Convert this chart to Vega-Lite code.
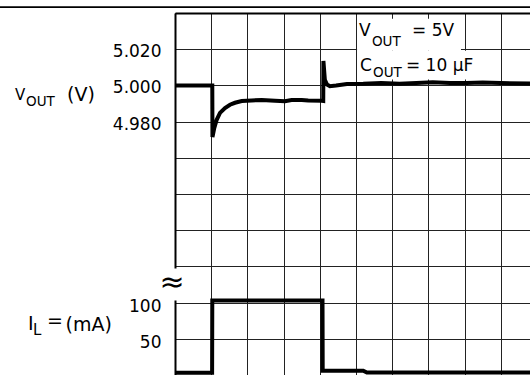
{
  "$schema": "https://vega.github.io/schema/vega-lite/v6.json",
  "width": 355,
  "height": 362,
  "autosize": {"type": "none"},
  "padding": {"left": 175, "top": 13, "right": 0, "bottom": 0},
  "background": "white",
  "config": {"view": {"stroke": null}, "font": "DejaVu Sans"},
  "layer": [
    {
      "data": {"values": [
        {"t": 0, "v": 5.0}, {"t": 1.03, "v": 5.0}, {"t": 1.035, "v": 4.9715},
        {"t": 1.086, "v": 4.9765}, {"t": 1.152, "v": 4.981}, {"t": 1.243, "v": 4.9848},
        {"t": 1.381, "v": 4.9875}, {"t": 1.519, "v": 4.9893}, {"t": 1.657, "v": 4.9904},
        {"t": 1.843, "v": 4.9914}, {"t": 2.119, "v": 4.9917}, {"t": 2.395, "v": 4.9919},
        {"t": 2.762, "v": 4.9915}, {"t": 3.039, "v": 4.9912}, {"t": 3.22, "v": 4.9919},
        {"t": 3.5, "v": 4.9919}, {"t": 3.68, "v": 4.9917}, {"t": 4.05, "v": 4.9915},
        {"t": 4.095, "v": 4.9914}, {"t": 4.1, "v": 5.0135}, {"t": 4.14, "v": 5.003},
        {"t": 4.2, "v": 5.0005}, {"t": 4.28, "v": 4.9996}, {"t": 4.45, "v": 4.9999},
        {"t": 4.75, "v": 5.0008}, {"t": 5.2, "v": 5.0009}, {"t": 5.7, "v": 5.0013},
        {"t": 6.2, "v": 5.0009}, {"t": 6.67, "v": 5.0013}, {"t": 7.12, "v": 5.0017},
        {"t": 7.6, "v": 5.0013}, {"t": 8.05, "v": 5.0013}, {"t": 8.5, "v": 5.0016},
        {"t": 9.0, "v": 5.0013}, {"t": 9.81, "v": 5.001}
      ]},
      "mark": {"type": "line", "stroke": "black", "strokeWidth": 4, "strokeJoin": "miter"},
      "encoding": {
        "x": {"field": "t", "type": "quantitative",
          "scale": {"domain": [0, 9.807], "nice": false, "zero": false},
          "axis": {"orient": "top", "values": [0, 1, 2, 3, 4, 5, 6, 7, 8, 9], "tickCount": 40, "grid": true,
            "gridColor": "#222", "gridWidth": 1, "labels": false, "ticks": false,
            "domain": true, "domainColor": "black", "domainWidth": 2, "title": null}},
        "y": {"field": "v", "type": "quantitative",
          "scale": {"domain": [4.84, 5.04], "nice": false, "zero": false},
          "axis": {"orient": "left",
            "values": [4.84, 4.86, 4.88, 4.9, 4.92, 4.94, 4.96, 4.98, 5.0, 5.02, 5.04],
            "tickCount": 40,
            "labelExpr": "datum.value > 4.97 && datum.value < 5.03 ? format(datum.value, '.3f') : ''",
            "grid": true, "gridColor": "#222", "gridWidth": 1, "ticks": false,
            "domain": true, "domainColor": "black", "domainWidth": 2,
            "labelFont": "DejaVu Sans", "labelFontSize": 17, "labelColor": "black",
            "labelPadding": 14, "labelOffset": 2.5, "labelOverlap": false, "title": null}}
      }
    },
    {
      "data": {"values": [
        {"t": 0, "i": 3}, {"t": 1.025, "i": 3}, {"t": 1.03, "i": 103},
        {"t": 4.075, "i": 103}, {"t": 4.08, "i": 6}, {"t": 5.2, "i": 6},
        {"t": 5.3, "i": 3.5}, {"t": 9.81, "i": 3.5}
      ]},
      "mark": {"type": "line", "stroke": "black", "strokeWidth": 4, "strokeJoin": "miter"},
      "encoding": {
        "x": {"field": "t", "type": "quantitative"},
        "y": {"field": "i", "type": "quantitative",
          "scale": {"domain": [0, 500], "nice": false, "zero": false},
          "axis": {"orient": "left", "values": [50, 100], "tickCount": 40, "grid": false, "ticks": false,
            "domain": false, "labelFont": "DejaVu Sans", "labelFontSize": 17,
            "labelColor": "black", "labelPadding": 14, "labelOffset": 3.5,
            "labelOverlap": false, "title": null}}
      }
    },
    {
      "data": {"values": [{"t1": -5, "t2": 10, "v": 5.0433}]},
      "mark": {"type": "rule", "stroke": "black", "strokeWidth": 1.7, "clip": false},
      "encoding": {
        "x": {"field": "t1", "type": "quantitative"},
        "x2": {"field": "t2"},
        "y": {"field": "v", "type": "quantitative", "scale": {"domain": [4.84, 5.04], "nice": false, "zero": false}, "axis": null}
      }
    },
    {
      "data": {"values": [
        {"t1": 5.03, "t2": 7.9, "v1": 5.0368, "v2": 5.0192},
        {"t1": 5.03, "t2": 8.54, "v1": 5.0192, "v2": 5.0032}
      ]},
      "mark": {"type": "rect", "fill": "white", "clip": false},
      "encoding": {
        "x": {"field": "t1", "type": "quantitative"},
        "x2": {"field": "t2"},
        "y": {"field": "v1", "type": "quantitative", "scale": {"domain": [4.84, 5.04], "nice": false, "zero": false}, "axis": null},
        "y2": {"field": "v2"}
      }
    },
    {
      "data": {"values": [
        {"t": 5.083, "v": 5.0275, "label": "V"},
        {"t": 5.11, "v": 5.0081, "label": "C"},
        {"t": 6.547, "v": 5.0275, "label": "= 5V"},
        {"t": 6.38, "v": 5.0081, "label": "= 10 μF"}
      ]},
      "mark": {"type": "text", "fontSize": 17, "align": "left", "baseline": "alphabetic", "color": "black", "clip": false},
      "encoding": {
        "x": {"field": "t", "type": "quantitative"},
        "y": {"field": "v", "type": "quantitative", "scale": {"domain": [4.84, 5.04], "nice": false, "zero": false}, "axis": null},
        "text": {"field": "label"}
      }
    },
    {
      "data": {"values": [
        {"t": 5.442, "v": 5.0219, "label": "OUT"},
        {"t": 5.47, "v": 5.0048, "label": "OUT"}
      ]},
      "mark": {"type": "text", "fontSize": 13.5, "align": "left", "baseline": "alphabetic", "color": "black", "clip": false},
      "encoding": {
        "x": {"field": "t", "type": "quantitative"},
        "y": {"field": "v", "type": "quantitative", "scale": {"domain": [4.84, 5.04], "nice": false, "zero": false}, "axis": null},
        "text": {"field": "label"}
      }
    },
    {
      "data": {"values": [{"t": -4.42, "v": 4.9921, "label": "V"}]},
      "mark": {"type": "text", "fontSize": 15, "align": "left", "baseline": "alphabetic", "color": "black", "clip": false},
      "encoding": {
        "x": {"field": "t", "type": "quantitative"},
        "y": {"field": "v", "type": "quantitative", "scale": {"domain": [4.84, 5.04], "nice": false, "zero": false}, "axis": null},
        "text": {"field": "label"}
      }
    },
    {
      "data": {"values": [{"t": -4.116, "v": 4.9888, "label": "OUT"}]},
      "mark": {"type": "text", "fontSize": 13.5, "align": "left", "baseline": "alphabetic", "color": "black", "clip": false},
      "encoding": {
        "x": {"field": "t", "type": "quantitative"},
        "y": {"field": "v", "type": "quantitative", "scale": {"domain": [4.84, 5.04], "nice": false, "zero": false}, "axis": null},
        "text": {"field": "label"}
      }
    },
    {
      "data": {"values": [{"t": -2.983, "v": 4.9916, "label": "(V)"}]},
      "mark": {"type": "text", "fontSize": 19, "align": "left", "baseline": "alphabetic", "color": "black", "clip": false},
      "encoding": {
        "x": {"field": "t", "type": "quantitative"},
        "y": {"field": "v", "type": "quantitative", "scale": {"domain": [4.84, 5.04], "nice": false, "zero": false}, "axis": null},
        "text": {"field": "label"}
      }
    },
    {
      "data": {"values": [{"t1": -0.1, "t2": 0.1, "i1": 102.9, "i2": 147.1}]},
      "mark": {"type": "rect", "fill": "white", "clip": false},
      "encoding": {
        "x": {"field": "t1", "type": "quantitative"},
        "x2": {"field": "t2"},
        "y": {"field": "i1", "type": "quantitative", "scale": {"domain": [0, 500], "nice": false, "zero": false}, "axis": null},
        "y2": {"field": "i2"}
      }
    },
    {
      "data": {"values": [{"t": -0.083, "i": 126.4, "label": "≈"}]},
      "mark": {"type": "text", "fontSize": 30, "align": "center", "baseline": "middle", "color": "black", "clip": false},
      "encoding": {
        "x": {"field": "t", "type": "quantitative"},
        "y": {"field": "i", "type": "quantitative", "scale": {"domain": [0, 500], "nice": false, "zero": false}, "axis": null},
        "text": {"field": "label"}
      }
    },
    {
      "data": {"values": [
        {"t": -4.06, "i": 62.8, "label": "I"},
        {"t": -3.536, "i": 66.4, "label": "="},
        {"t": -3.025, "i": 60.8, "label": "(mA)"}
      ]},
      "mark": {"type": "text", "fontSize": 19, "align": "left", "baseline": "alphabetic", "color": "black", "clip": false},
      "encoding": {
        "x": {"field": "t", "type": "quantitative"},
        "y": {"field": "i", "type": "quantitative", "scale": {"domain": [0, 500], "nice": false, "zero": false}, "axis": null},
        "text": {"field": "label"}
      }
    },
    {
      "data": {"values": [{"t": -3.923, "i": 55.9, "label": "L"}]},
      "mark": {"type": "text", "fontSize": 15, "align": "left", "baseline": "alphabetic", "color": "black", "clip": false},
      "encoding": {
        "x": {"field": "t", "type": "quantitative"},
        "y": {"field": "i", "type": "quantitative", "scale": {"domain": [0, 500], "nice": false, "zero": false}, "axis": null},
        "text": {"field": "label"}
      }
    }
  ],
  "resolve": {"scale": {"y": "independent"}}
}
